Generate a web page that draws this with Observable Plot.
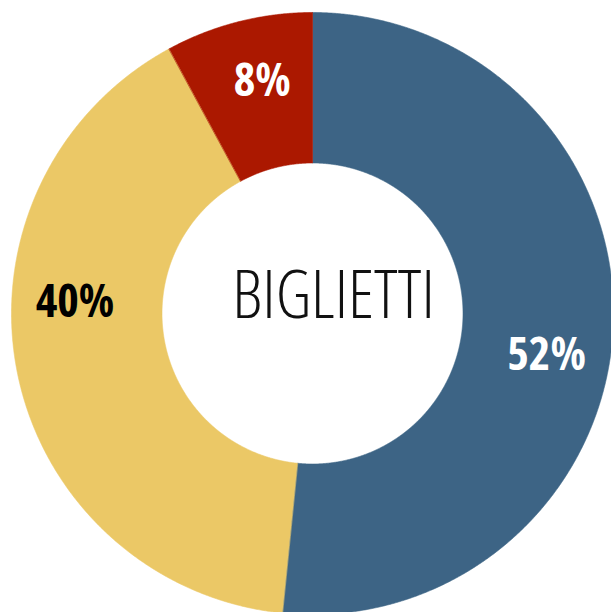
<!DOCTYPE html>
<html><head><meta charset="utf-8">
<script src="https://cdn.jsdelivr.net/npm/d3@7"></script>
<script src="https://cdn.jsdelivr.net/npm/@observablehq/plot@0.6"></script>
<style>
html,body{margin:0;padding:0;background:#fff;overflow:hidden}
#chart svg text{font-family:"Open Sans",sans-serif;font-stretch:75%}
</style></head><body><div id="chart"></div>
<script>
// ---- data ----
const slices = ["Blu", "Giallo", "Rosso"];
const values = [51.6, 40.5, 7.9];
const labels = ["52%", "40%", "8%"];
const centerLabel = "BIGLIETTI";

// ---- style / layout ----
const colors = ["#3d6485", "#ebc866", "#ab1800"];
const labelColors = ["#ffffff", "#000000", "#ffffff"];
const labelNudgeDeg = [7.3, 14.0, 2.0];
const innerFrac = 0.5, labelFrac = 0.79;

const arcs = d3.pie().sort(null).value(d => d)(values);
const pts = [];
arcs.forEach((p, i) => {
  const n = Math.max(4, Math.ceil((p.endAngle - p.startAngle) / 0.004));
  for (let k = 0; k <= n; k++) {
    const a = p.startAngle + (p.endAngle - p.startAngle) * k / n;
    pts.push({slice: slices[i], x: Math.sin(a), y: Math.cos(a)});
  }
  for (let k = n; k >= 0; k--) {
    const a = p.startAngle + (p.endAngle - p.startAngle) * k / n;
    pts.push({slice: slices[i], x: innerFrac * Math.sin(a), y: innerFrac * Math.cos(a)});
  }
});
const labelData = arcs.map((p, i) => {
  const a = (p.startAngle + p.endAngle) / 2 + labelNudgeDeg[i] * Math.PI / 180;
  return {text: labels[i], color: labelColors[i], x: labelFrac * Math.sin(a), y: labelFrac * Math.cos(a)};
});

const chart = Plot.plot({
  width: 611, height: 612, margin: 0,
  x: {domain: [-1, 1], range: [11, 613], axis: null},
  y: {domain: [-1, 1], range: [614, 12], axis: null},
  color: {domain: slices, range: colors},
  marks: [
    Plot.line(pts, {x: "x", y: "y", z: "slice", fill: "slice", stroke: "slice", strokeWidth: 0.6, curve: "linear-closed"}),
    Plot.text(labelData.filter(d => d.color === "#ffffff"), {x: "x", y: "y", text: "text", fill: "white", fontSize: 46, fontWeight: 700}),
    Plot.text(labelData.filter(d => d.color === "#000000"), {x: "x", y: "y", text: "text", fill: "black", fontSize: 46, fontWeight: 700}),
    Plot.text([{x: 0, y: 0, text: centerLabel}], {x: "x", y: "y", text: "text", fill: "#111", fontSize: 67, fontWeight: 300, dx: 21, dy: -17})
  ]
});
document.getElementById("chart").appendChild(chart);
</script></body></html>
